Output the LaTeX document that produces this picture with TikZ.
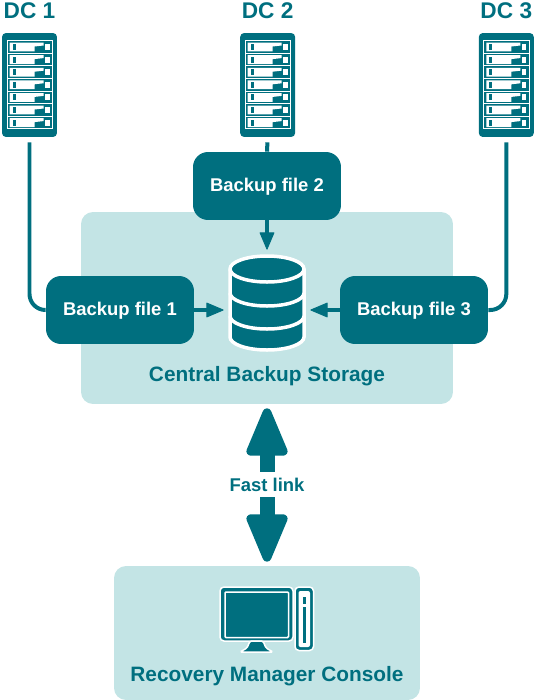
\documentclass[tikz,border=0pt]{standalone}
\usepackage{fontspec}
\setmainfont{Liberation Sans}
\usepackage{xcolor}
\usepackage{tikz}
\usetikzlibrary{arrows.meta,positioning}
\definecolor{petrol}{HTML}{006F7F}
\definecolor{pale}{HTML}{C3E4E5}

\begin{document}
\begin{tikzpicture}[
	x=0.02cm, y=-0.02cm,
	font=\bfseries\fontsize{10.5}{12}\selectfont,
	arq/.style={rectangle, rounded corners=0.3cm, fill=petrol, text=white, minimum width=2.96cm, minimum height=1.36cm, inner sep=0pt, text depth=0.04cm},
	area/.style={rectangle, rounded corners=0.24cm, fill=pale, inner sep=0pt},
	rack/.style={rectangle, rounded corners=0.08cm, fill=petrol, minimum width=1.1cm, minimum height=2.08cm, inner sep=0pt},
	dc/.style={text=petrol, font=\bfseries\fontsize{12.9}{14}\selectfont, inner sep=0pt},
	rotulo/.style={text=petrol, font=\bfseries\fontsize{11.85}{14}\selectfont, inner sep=0pt},
	fio/.style={line width=0.08cm, petrol, rounded corners=0.32cm, shorten <=0.1cm},
	seta/.style={-{Triangle[length=0.36cm,width=0.3cm,line width=0.5pt,round]}, line width=0.08cm, petrol},
	setona/.style={-{Triangle[length=1.1cm,width=0.86cm,line width=5pt,round]}, line width=0.3cm, petrol, shorten >=0.08cm},
]
\useasboundingbox (0,0) rectangle (535,700);
\node[area, minimum width=7.44cm, minimum height=3.84cm] (st) at (267,308) {};
\node[area, minimum width=6.12cm, minimum height=2.68cm] (rm) at (267,633) {};
\node[rotulo] (stl) at (267,376.5) {Central Backup Storage};
\node[rotulo] (rml) at (267,676.5) {Recovery Manager Console};

\node[rack] (dc1) at (29.5,85) {};
\node[rack] (dc2) [right=3.65cm of dc1] {};
\node[rack] (dc3) [right=3.66cm of dc2] {};
\node[dc] at (dc1 |- 0,11) (t1) {DC 1};
\node[dc] at (dc2 |- 0,11) (t2) {DC 2};
\node[dc] at (dc3 |- 0,11) (t3) {DC 3};
\foreach \s in {dc1,dc2,dc3}{
	\begin{scope}[shift={(\s)}]
	\foreach \k in {0,...,6}{
		\begin{scope}[yshift=-0.02cm*(-38+12.6*\k)]
		\draw[white, line width=0.02cm] (-22.5,-6.3) rectangle (23,6.3);
		\fill[white] (-20,-4.4) -- (14,-4.4) -- (14,-1.5) -- (5,-0.5) -- (5,4.4) -- (-20,4.4) -- cycle;
		\fill[petrol] (-17,-3) rectangle (-14,3);
		\fill[white] (15.5,-3) rectangle (20,3);
		\end{scope}
	}
	\end{scope}
}

\node[arq] (bf1) at (120,310) {Backup file 1};
\node[arq] (bf2) at (267,186) {Backup file 2};
\node[arq] (bf3) at (414,310) {Backup file 3};
\node[minimum width=1.72cm, minimum height=2.4cm, inner sep=0pt] (db) at (267,310) {};
\begin{scope}[shift={(db)}]
\filldraw[petrol, draw=white, line width=0.07cm] (-37,-41) -- (-37,27) arc[start angle=180, end angle=360, x radius=37, y radius=-13] -- (37,-41) arc[start angle=0, end angle=180, x radius=37, y radius=-13] -- cycle;
\draw[white, line width=0.07cm] (-37,-41) arc[start angle=180, end angle=360, x radius=37, y radius=-13];
\draw[white, line width=0.07cm] (-37,-17) arc[start angle=180, end angle=360, x radius=37, y radius=-13];
\draw[white, line width=0.07cm] (-37,6) arc[start angle=180, end angle=360, x radius=37, y radius=-13];
\end{scope}

\draw[fio] (dc1.south) |- (bf1.west);
\draw[fio] (dc2.south) -- (bf2.north);
\draw[fio] (dc3.south) |- (bf3.east);
\draw[seta] (bf2) -- (db);
\draw[seta] (bf1) -- (db);
\draw[seta] (bf3) -- (db);

\node[text=petrol, inner sep=0pt, minimum height=0.5cm] (fl) at (267,484.5) {Fast link};
\draw[setona] (fl.north) -- (st.south);
\draw[setona] (fl.south) -- (rm.north);

% monitor e gabinete
\filldraw[petrol, draw=white, line width=0.03cm, rounded corners=0.08cm] (220,587) rectangle (293,641);
\draw[white, line width=0.03cm, rounded corners=0.02cm] (225,592) rectangle (288.5,637.5);
\filldraw[petrol, draw=white, line width=0.03cm, rounded corners=0.03cm] (240,652) -- (247,648) -- (250,641) -- (263,641) -- (266,648) -- (273,652) -- cycle;
\filldraw[petrol, draw=white, line width=0.03cm, rounded corners=0.08cm] (295,587) rectangle (313.5,650.5);
\fill[white, rounded corners=0.04cm] (298.5,591) rectangle (310,647);
\fill[petrol] (302.5,597) rectangle (305.5,604);
\fill[petrol] (302.5,607) rectangle (305.5,643);
\end{tikzpicture}
\end{document}
